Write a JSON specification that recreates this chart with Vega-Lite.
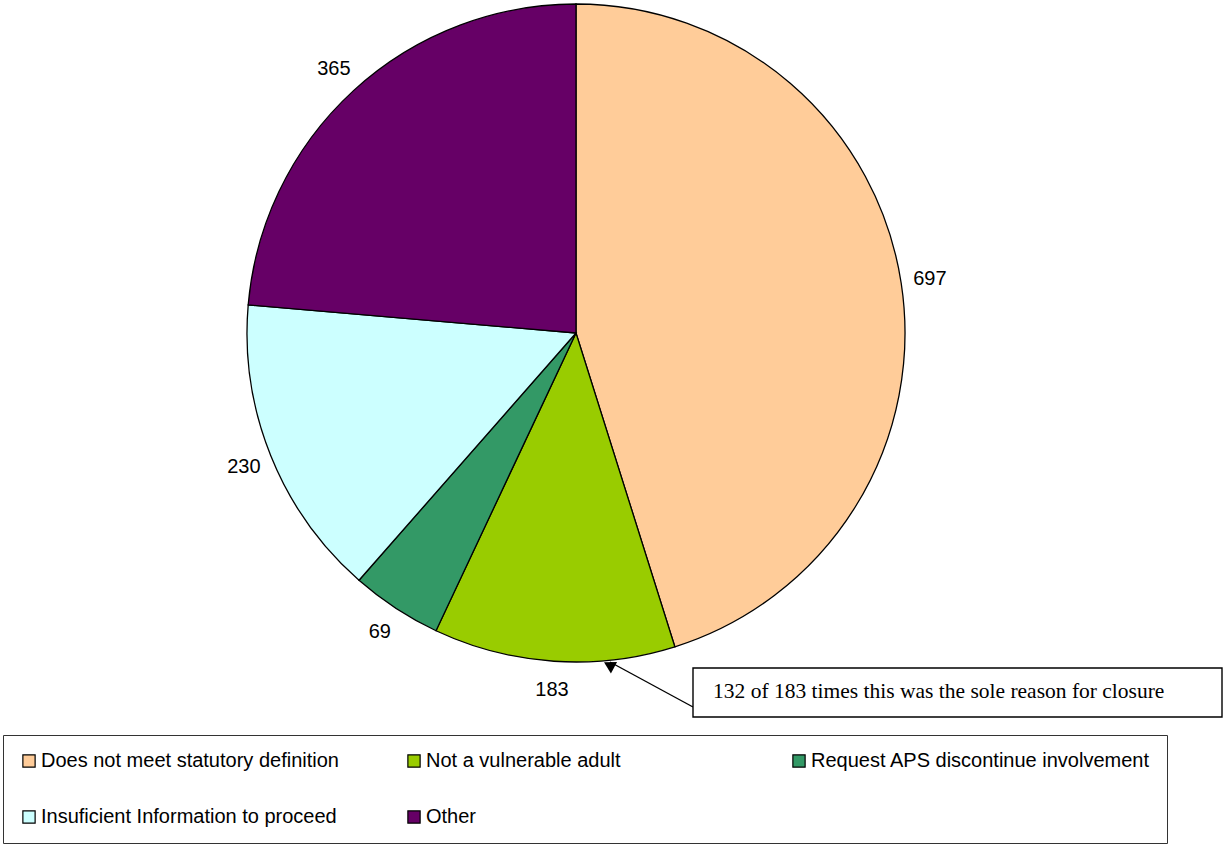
{
  "$schema": "https://vega.github.io/schema/vega-lite/v6.json",
  "width": 1152,
  "height": 666,
  "padding": 0,
  "autosize": {"type": "pad"},
  "background": "white",
  "config": {"view": {"stroke": null}},
  "layer": [
    {
      "data": {"values": [
        {"idx": 1, "reason": "Does not meet statutory definition", "count": 697},
        {"idx": 2, "reason": "Not a vulnerable adult", "count": 183},
        {"idx": 3, "reason": "Request APS discontinue involvement", "count": 69},
        {"idx": 4, "reason": "Insuficient Information to proceed", "count": 230},
        {"idx": 5, "reason": "Other", "count": 365}
      ]},
      "encoding": {
        "theta": {"field": "count", "type": "quantitative", "stack": true},
        "order": {"field": "idx", "type": "quantitative"}
      },
      "layer": [
        {
          "mark": {"type": "arc", "outerRadius": 329, "stroke": "black", "strokeWidth": 1.3},
          "encoding": {
            "color": {
              "field": "reason", "type": "nominal",
              "scale": {
                "domain": ["Does not meet statutory definition", "Not a vulnerable adult", "Request APS discontinue involvement", "Insuficient Information to proceed", "Other"],
                "range": ["#FFCC99", "#99CC00", "#339966", "#CCFFFF", "#660066"]
              },
              "legend": {
                "title": null,
                "orient": "none",
                "legendX": 3,
                "legendY": 735,
                "direction": "horizontal",
                "columns": 3,
                "gridAlign": "all",
                "columnPadding": 23,
                "rowPadding": 36,
                "padding": 16,
                "strokeColor": "#333333",
                "fillColor": "white",
                "symbolType": "square",
                "symbolSize": 150,
                "symbolStrokeColor": "black",
                "symbolStrokeWidth": 1.2,
                "symbolOpacity": 1,
                "labelFont": "Liberation Sans",
                "labelFontSize": 20,
                "labelColor": "black",
                "labelOffset": 2,
                "labelLimit": 500
              }
            }
          }
        },
        {
          "mark": {"type": "text", "radius": 358, "font": "Liberation Sans", "fontSize": 20, "color": "black"},
          "encoding": {
            "text": {"field": "count", "type": "quantitative"}
          }
        }
      ]
    },
    {
      "data": {"values": [
        {"note": "132 of 183 times this was the sole reason for closure", "bx1": 693, "bx2": 1222, "by1": 668, "by2": 717, "tx": 713, "ty": 692, "lx1": 693, "ly1": 707, "lx2": 610, "ly2": 662, "px": 609, "py": 665}
      ]},
      "layer": [
        {
          "mark": {"type": "rule", "stroke": "black", "strokeWidth": 1.4},
          "encoding": {
            "x": {"field": "lx1", "type": "quantitative", "scale": {"domain": [0, 1152], "nice": false, "zero": false}, "axis": null},
            "y": {"field": "ly1", "type": "quantitative", "scale": {"domain": [0, 666], "nice": false, "zero": false, "reverse": true}, "axis": null},
            "x2": {"field": "lx2"},
            "y2": {"field": "ly2"}
          }
        },
        {
          "mark": {"type": "point", "shape": "triangle-up", "filled": true, "color": "black", "size": 170, "angle": 298, "opacity": 1},
          "encoding": {
            "x": {"field": "px", "type": "quantitative"},
            "y": {"field": "py", "type": "quantitative"}
          }
        },
        {
          "mark": {"type": "rect", "fill": "white", "stroke": "black", "strokeWidth": 1.4},
          "encoding": {
            "x": {"field": "bx1", "type": "quantitative"},
            "x2": {"field": "bx2"},
            "y": {"field": "by1", "type": "quantitative"},
            "y2": {"field": "by2"}
          }
        },
        {
          "mark": {"type": "text", "align": "left", "baseline": "middle", "font": "Liberation Serif", "fontSize": 21.5, "color": "black"},
          "encoding": {
            "x": {"field": "tx", "type": "quantitative"},
            "y": {"field": "ty", "type": "quantitative"},
            "text": {"field": "note"}
          }
        }
      ]
    }
  ]
}
